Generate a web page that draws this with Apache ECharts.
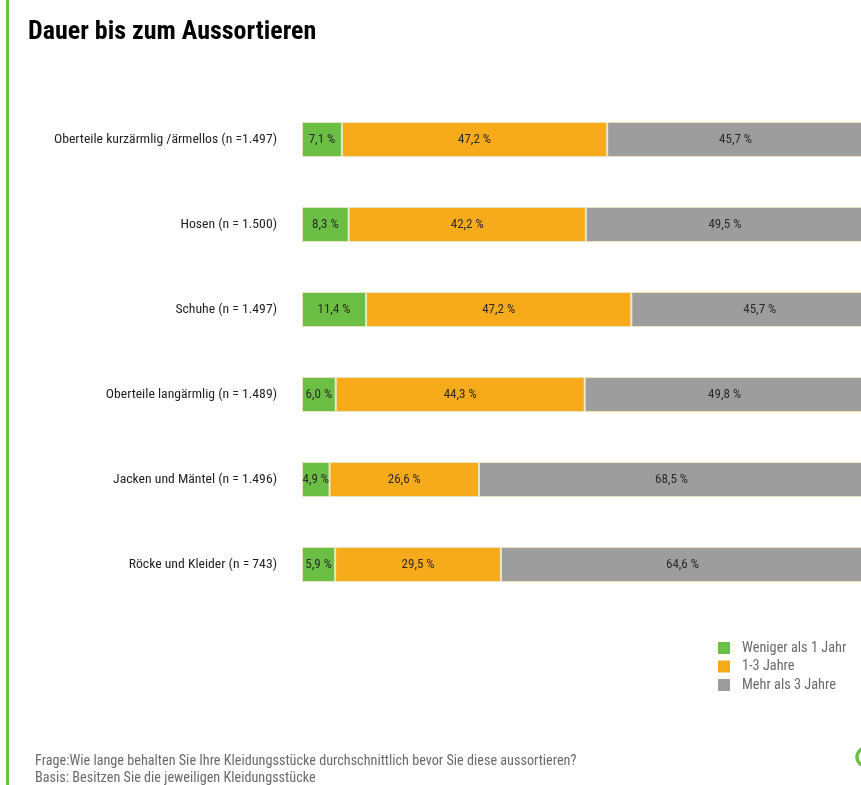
<!DOCTYPE html>
<html>
<head>
<meta charset="utf-8">
<title>Dauer bis zum Aussortieren</title>
<script src="https://cdn.jsdelivr.net/npm/echarts@6/dist/echarts.min.js"></script>
<style>
  html, body { margin: 0; padding: 0; background: #ffffff; overflow: hidden; }
  /* the canvas is wider than the page so the bars run past the right edge */
  #chart { width: 940px; height: 785px; }
</style>
</head>
<body>
<div id="chart"></div>
<script>
// Kleidungsstücke mit Stichprobengröße
const categories = [
  'Oberteile kurzärmlig /ärmellos (n =1.497)',
  'Hosen (n = 1.500)',
  'Schuhe (n = 1.497)',
  'Oberteile langärmlig (n = 1.489)',
  'Jacken und Mäntel (n = 1.496)',
  'Röcke und Kleider (n = 743)'
];

// Anteile in Prozent je Zeitraum
const wenigerAls1Jahr = [7.1, 8.3, 11.4, 6.0, 4.9, 5.9];
const einBisDreiJahre = [47.2, 42.2, 47.2, 44.3, 26.6, 29.5];
const mehrAls3Jahre   = [45.7, 49.5, 45.7, 49.8, 68.5, 64.6];

const seriesNames = ['Weniger als 1 Jahr', '1-3 Jahre', 'Mehr als 3 Jahre'];

const FONT = '"Liberation Sans Narrow", "Arial Narrow", "Roboto Condensed", "Liberation Sans", sans-serif';
const colors = ['#6bbf45', '#f7ab1b', '#9d9d9d'];

const fmt = v => v.toFixed(1).replace('.', ',') + ' %';

// 5.62 px je Prozentpunkt; die Skala reicht über den rechten Rand hinaus
const AXIS_MAX = 110;
const PX_PER_PCT = 5.62;

function barSeries(name, data, color) {
  return {
    name: name,
    type: 'bar',
    stack: 'gesamt',
    barWidth: 35,
    data: data,
    itemStyle: { color: color, borderColor: '#e9e6bf', borderWidth: 1 },
    label: {
      show: true,
      position: 'inside',
      formatter: p => fmt(p.value),
      color: '#2b2b2b',
      fontFamily: FONT,
      fontSize: 13
    },
    emphasis: { disabled: true },
    animation: false
  };
}

const chart = echarts.init(document.getElementById('chart'), null, { renderer: 'canvas' });

chart.setOption({
  backgroundColor: '#ffffff',
  animation: false,
  title: {
    text: 'Dauer bis zum Aussortieren',
    left: 23,
    top: 14,
    textStyle: { fontFamily: FONT, fontWeight: 'bold', fontSize: 26, color: '#000000' }
  },
  legend: {
    orient: 'vertical',
    left: 718,
    top: 641,
    padding: 0,
    itemWidth: 12,
    itemHeight: 12,
    itemGap: 4.5,
    icon: 'rect',
    data: seriesNames,
    itemStyle: { borderWidth: 0 },
    textStyle: { fontFamily: FONT, fontSize: 14.3, lineHeight: 14, color: '#6a6a6a', padding: [0, 0, 0, 7] }
  },
  grid: { left: 302, width: AXIS_MAX * PX_PER_PCT, top: 97, height: 510, containLabel: false },
  xAxis: {
    type: 'value',
    min: 0,
    max: AXIS_MAX,
    show: false
  },
  yAxis: {
    type: 'category',
    inverse: true,
    data: categories,
    axisLine: { show: false },
    axisTick: { show: false },
    splitLine: { show: false },
    axisLabel: { fontFamily: FONT, fontSize: 13.7, color: '#1f1f1f', margin: 25 }
  },
  series: [
    barSeries(seriesNames[0], wenigerAls1Jahr, colors[0]),
    barSeries(seriesNames[1], einBisDreiJahre, colors[1]),
    barSeries(seriesNames[2], mehrAls3Jahre, colors[2])
  ],
  graphic: [
    {
      type: 'rect',
      shape: { x: 6, y: 0, width: 3, height: 785 },
      style: { fill: '#6cc04a' },
      silent: true
    },
    {
      type: 'circle',
      shape: { cx: 866, cy: 757, r: 9 },
      style: { fill: 'none', stroke: '#6cc04a', lineWidth: 3.5 },
      silent: true
    },
    {
      type: 'text',
      left: 35,
      top: 753,
      style: {
        text: 'Frage:Wie lange behalten Sie Ihre Kleidungsstücke durchschnittlich bevor Sie diese aussortieren?\nBasis: Besitzen Sie die jeweiligen Kleidungsstücke',
        fontFamily: FONT,
        fontSize: 14.2,
        lineHeight: 17,
        fill: '#6a6a6a'
      },
      silent: true
    }
  ]
});
</script>
</body>
</html>
